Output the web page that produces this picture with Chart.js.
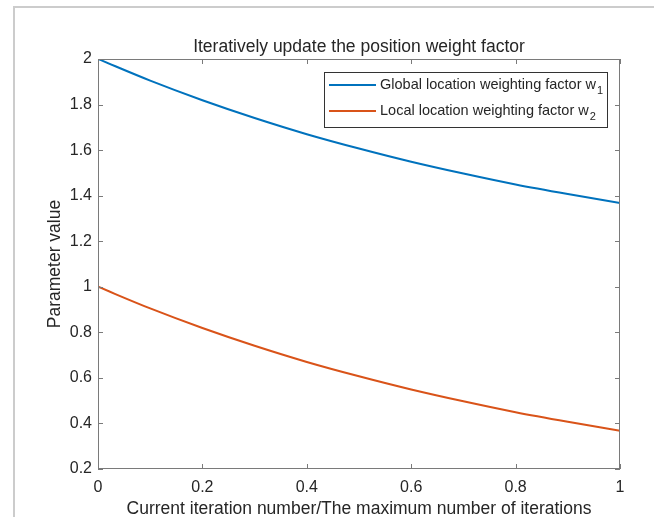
<!DOCTYPE html>
<html>
<head>
<meta charset="utf-8">
<style>
  html, body { margin: 0; padding: 0; background: #fff; }
  #wrap { width: 654px; height: 517px; }
</style>
<script src="https://cdn.jsdelivr.net/npm/chart.js@4"></script>
</head>
<body>
<div id="wrap"><canvas id="chart" width="654" height="517"></canvas></div>
<script>
const ratio = [0, 0.1, 0.2, 0.3, 0.4, 0.5, 0.6, 0.7, 0.8, 0.9, 1];
const globalW1 = [2.000, 1.905, 1.819, 1.741, 1.670, 1.607, 1.549, 1.497, 1.449, 1.407, 1.368];
const localW2 = [1.000, 0.905, 0.819, 0.741, 0.670, 0.607, 0.549, 0.497, 0.449, 0.407, 0.368];
const xTicks = [0, 0.2, 0.4, 0.6, 0.8, 1];
const yTicks = [0.2, 0.4, 0.6, 0.8, 1, 1.2, 1.4, 1.6, 1.8, 2];

const BLUE = '#0072BD';
const ORANGE = '#D95319';
const AXIS = '#7a7a7a';
const TEXT = '#262626';
const FONT = 'Liberation Sans, Arial, sans-serif';

const toPoints = ys => ratio.map((x, i) => ({ x: x, y: ys[i] }));

// light figure frame along the top and left edge
const frame = {
  id: 'frame',
  beforeDraw(chart) {
    const ctx = chart.ctx;
    ctx.save();
    ctx.strokeStyle = '#cccccc';
    ctx.lineWidth = 2;
    ctx.beginPath();
    ctx.moveTo(14, 517); ctx.lineTo(14, 7); ctx.lineTo(654, 7);
    ctx.stroke();
    ctx.restore();
  }
};

// box, inward ticks, title, axis labels and legend drawn matlab-style
const decorations = {
  id: 'decorations',
  afterDraw(chart) {
    const ctx = chart.ctx;
    const a = chart.chartArea;
    const xs = chart.scales.x, ys = chart.scales.y;
    ctx.save();
    ctx.strokeStyle = AXIS;
    ctx.lineWidth = 1;
    ctx.strokeRect(a.left + 0.5, a.top + 0.5, a.right - a.left - 1, a.bottom - a.top - 1);
    ctx.beginPath();
    xTicks.forEach(v => {
      const px = Math.round(xs.getPixelForValue(v)) + 0.5;
      ctx.moveTo(px, a.bottom); ctx.lineTo(px, a.bottom - 5);
      ctx.moveTo(px, a.top); ctx.lineTo(px, a.top + 5);
    });
    yTicks.forEach(v => {
      const py = Math.round(ys.getPixelForValue(v)) + 0.5;
      ctx.moveTo(a.left, py); ctx.lineTo(a.left + 5, py);
      ctx.moveTo(a.right, py); ctx.lineTo(a.right - 5, py);
    });
    ctx.stroke();

    ctx.fillStyle = TEXT;
    ctx.textAlign = 'center';
    ctx.textBaseline = 'middle';
    ctx.font = '17.5px ' + FONT;
    const cx = (a.left + a.right) / 2;
    ctx.fillText('Iteratively update the position weight factor', cx, 47);
    ctx.fillText('Current iteration number/The maximum number of iterations', cx, 509);
    ctx.save();
    ctx.translate(55, (a.top + a.bottom) / 2);
    ctx.rotate(-Math.PI / 2);
    ctx.fillText('Parameter value', 0, 0);
    ctx.restore();

    // legend
    const lx = 324, ly = 72, lw = 283, lh = 55;
    ctx.fillStyle = '#fff';
    ctx.fillRect(lx, ly, lw, lh);
    ctx.strokeStyle = '#333';
    ctx.strokeRect(lx + 0.5, ly + 0.5, lw, lh);
    const items = [
      { color: BLUE, label: 'Global location weighting factor w', sub: '1', y: 85 },
      { color: ORANGE, label: 'Local location weighting factor w', sub: '2', y: 111 }
    ];
    items.forEach(it => {
      ctx.strokeStyle = it.color;
      ctx.lineWidth = 2;
      ctx.beginPath();
      ctx.moveTo(329, it.y); ctx.lineTo(376, it.y);
      ctx.stroke();
      ctx.fillStyle = TEXT;
      ctx.textAlign = 'left';
      ctx.font = '14.5px ' + FONT;
      ctx.fillText(it.label, 380, it.y);
      const w = ctx.measureText(it.label).width;
      ctx.font = '11px ' + FONT;
      ctx.fillText(it.sub, 380 + w + 1, it.y + 6);
    });
    ctx.restore();
  }
};

new Chart(document.getElementById('chart'), {
  type: 'line',
  data: {
    datasets: [
      { label: 'w1', data: toPoints(globalW1), borderColor: BLUE, borderWidth: 2, pointRadius: 0, cubicInterpolationMode: 'monotone' },
      { label: 'w2', data: toPoints(localW2), borderColor: ORANGE, borderWidth: 2, pointRadius: 0, cubicInterpolationMode: 'monotone' }
    ]
  },
  plugins: [frame, decorations],
  options: {
    responsive: false,
    animation: false,
    layout: { padding: { left: 0, right: 34, top: 59, bottom: 0 } },
    plugins: { legend: { display: false }, tooltip: { enabled: false } },
    scales: {
      x: {
        type: 'linear', min: 0, max: 1,
        afterFit: s => { s.height = 48; },
        afterBuildTicks: s => { s.ticks = xTicks.map(v => ({ value: v })); },
        grid: { display: false, drawTicks: false },
        border: { display: false },
        ticks: { color: TEXT, font: { size: 16, family: FONT }, padding: 9, maxRotation: 0, callback: v => String(v) }
      },
      y: {
        min: 0.2, max: 2,
        afterFit: s => { s.width = 98; },
        afterBuildTicks: s => { s.ticks = yTicks.map(v => ({ value: v })); },
        grid: { display: false, drawTicks: false },
        border: { display: false },
        ticks: { color: TEXT, font: { size: 16, family: FONT }, padding: 6, callback: v => String(Math.round(v * 10) / 10) }
      }
    }
  }
});
</script>
</body>
</html>
